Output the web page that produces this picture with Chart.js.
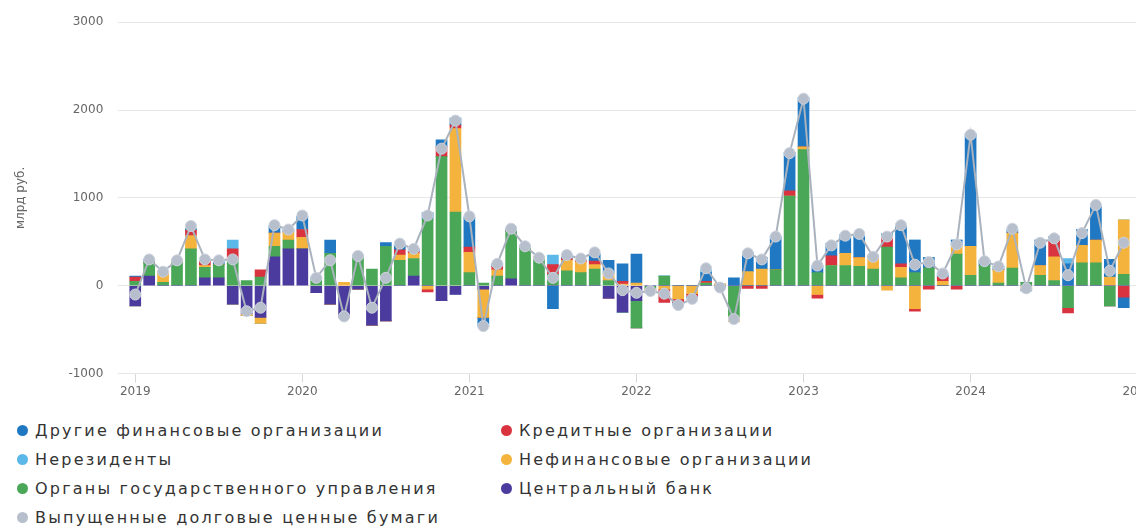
<!DOCTYPE html>
<html lang="ru">
<head>
<meta charset="utf-8">
<title>Выпущенные долговые ценные бумаги</title>
<script src="https://cdn.jsdelivr.net/npm/chart.js@4.4.1/dist/chart.umd.min.js"></script>
<style>
  html, body { margin: 0; padding: 0; background: #fff; overflow: hidden; }
  #wrap { position: absolute; left: 0; top: 0; width: 1172px; height: 401px; }
  #legend {
    position: absolute; left: 17px; top: 416px;
    display: grid; grid-template-columns: 484px auto; grid-auto-rows: 29px;
    font-family: 'DejaVu Sans', sans-serif; font-size: 16px; color: #333; letter-spacing: 2.2px;
  }
  .item { display: flex; align-items: center; white-space: nowrap; }
  .dot { width: 11px; height: 11px; border-radius: 50%; margin-right: 7px; flex: none; }
</style>
</head>
<body>
<div id="wrap"><canvas id="debtChart"></canvas></div>
<div id="legend"></div>

<script>
// месяцы с января 2019 по декабрь 2024, млрд руб.
const yearLabels = ['2019', '2020', '2021', '2022', '2023', '2024', '2025'];
const monthNames = ['янв', 'фев', 'мар', 'апр', 'май', 'июн', 'июл', 'авг', 'сен', 'окт', 'ноя', 'дек'];

const centralBank = [
  -230, 110, 0, 0, 0, 90, 90, -210, -320, -360, 330, 420,
  420, -80, -210, -360, -40, -450, -400, 0, 110, 0, -170, -100,
  0, -40, 0, 80, 0, 0, 0, 0, 0, 0, -140, -300,
  -170, 0, 0, 0, 0, 0, 0, 0, 0, 0, 0, 0,
  0, 0, 0, 0, 0, 0, 0, 0, 0, 0, 0, 0,
  0, 0, 0, 0, 0, 0, 0, 0, 0, 0, 0, 0
];
const government = [
  50, 150, 40, 270, 420, 120, 150, 300, 60, 100, 120, 100,
  0, 80, 370, 0, 320, 190, 450, 290, 200, 760, 1470, 840,
  150, 30, 110, 540, 430, 300, 130, 170, 150, 190, 60, 0,
  -310, -30, 110, 0, 0, 30, 0, -350, 0, 0, 180, 1020,
  1550, 150, 230, 230, 220, 190, 440, 90, 150, 200, 0, 360,
  120, 230, 30, 200, 40, 120, 60, -250, 260, 260, -230, 130
];
const nonFinancial = [
  0, 0, 120, 20, 150, 20, 0, 0, -20, -70, 150, 90,
  130, 0, 0, 40, 0, 0, 0, 60, 60, -40, 0, 950,
  230, -320, 70, 0, 0, 30, 0, 120, 120, 50, 80, 20,
  30, -20, -40, -150, -90, 0, 20, -60, 160, 190, 0, 0,
  30, -100, 0, 140, 100, 130, -50, 120, -260, 0, 50, 100,
  330, 0, 150, 400, -40, 110, 270, 0, 200, 260, 100, 620
];
const creditOrgs = [
  50, 0, 0, 0, 60, 60, 0, 120, 0, 80, 0, 0,
  90, 0, 0, 0, 0, 0, 0, 60, 20, -30, 110, 40,
  60, 0, 40, 0, 0, 0, 110, 20, 20, 40, 0, 30,
  0, 0, -150, -40, -30, 20, 0, 0, -30, -30, 0, 60,
  0, -40, 110, 0, 0, 0, 120, 40, -30, -40, 50, -40,
  0, 0, 0, 0, 0, 0, 200, -60, 0, 0, 0, -130
];
const otherFinancial = [
  10, 40, 0, 10, 20, 0, 50, 0, 0, 0, 80, 30,
  150, 20, 150, 0, 30, 0, 40, 60, 30, 70, 80, 80,
  340, -100, 30, 30, 30, 0, -260, 40, 0, 80, 150, 200,
  330, -30, 0, -30, -30, 100, -20, 90, 220, 130, 380, 440,
  560, 80, 140, 210, 260, 20, 30, 430, 370, 120, 20, 60,
  1280, 60, 40, 40, -20, 290, 30, 250, 180, 380, 200, -120
];
const nonResidents = [
  0, 0, 0, 0, 0, 0, 0, 100, 0, 0, 0, 0,
  0, 0, 0, 0, 0, 0, 0, 0, 0, 0, 0, 0,
  0, 0, 0, 0, 0, 0, 110, 0, 0, 0, 0, 0,
  0, 0, 0, 0, 0, 40, 0, 0, 0, 0, 0, 0,
  0, 0, 0, 0, 0, 0, 0, 0, 0, 0, 20, 0,
  0, 0, 0, 0, 0, 0, 0, 60, 0, 0, 0, 0
];
const issuedTotal = [
  -100, 300, 160, 290, 680, 300, 290, 300, -290, -250, 690, 640,
  800, 90, 290, -350, 340, -250, 90, 480, 420, 800, 1560, 1880,
  790, -460, 250, 650, 450, 320, 90, 350, 310, 380, 140, -50,
  -80, -60, -90, -220, -150, 200, -20, -380, 370, 300, 560, 1510,
  2130, 230, 460, 570, 590, 330, 560, 690, 240, 270, 140, 470,
  1720, 280, 220, 650, -30, 490, 540, 120, 600, 920, 170, 490
];

const yTicks = [-1000, 0, 1000, 2000, 3000];

const toPoints = arr => arr.map((v, i) => ({ x: i, y: v }));

const barSeries = [
  { label: 'Центральный банк', data: centralBank, color: '#4b3b9e' },
  { label: 'Органы государственного управления', data: government, color: '#4aa757' },
  { label: 'Нефинансовые организации', data: nonFinancial, color: '#f3b33d' },
  { label: 'Кредитные организации', data: creditOrgs, color: '#d8333f' },
  { label: 'Другие финансовые организации', data: otherFinancial, color: '#1f78c1' },
  { label: 'Нерезиденты', data: nonResidents, color: '#5bb8e8' }
];

const legendOrder = [
  'Другие финансовые организации', 'Кредитные организации',
  'Нерезиденты', 'Нефинансовые организации',
  'Органы государственного управления', 'Центральный банк',
  'Выпущенные долговые ценные бумаги'
];

const datasets = [
  {
    type: 'line',
    label: 'Выпущенные долговые ценные бумаги',
    data: toPoints(issuedTotal),
    stack: 'total',
    order: 0,
    borderColor: '#aab2be',
    backgroundColor: '#b7bfcd',
    borderWidth: 2,
    pointRadius: 5.5,
    pointBackgroundColor: '#b7bfcd',
    pointBorderColor: '#cdd3dd',
    pointBorderWidth: 1,
    tension: 0
  }
].concat(barSeries.map(s => ({
  type: 'bar',
  label: s.label,
  data: toPoints(s.data),
  stack: 'holders',
  order: 1,
  backgroundColor: s.color,
  borderWidth: 0,
  barThickness: 11
})));

const tickColor = '#666';
const gridColor = '#e6e6e6';

const chart = new Chart(document.getElementById('debtChart'), {
  data: { datasets },
  options: {
    responsive: true,
    maintainAspectRatio: false,
    animation: false,
    layout: { padding: { left: 10, top: 9, right: 0, bottom: 0 } },
    interaction: { mode: 'index', intersect: false },
    plugins: {
      legend: { display: false },
      tooltip: {
        callbacks: {
          title: items => {
            const i = items[0].parsed.x;
            return monthNames[i % 12] + ' ' + yearLabels[Math.floor(i / 12)];
          }
        }
      }
    },
    scales: {
      x: {
        type: 'linear',
        stacked: true,
        offset: false,
        min: -1.22,
        max: 74,
        afterBuildTicks: axis => {
          axis.ticks = yearLabels.map((y, k) => ({ value: k * 12 }));
        },
        grid: { offset: false, drawOnChartArea: false, drawTicks: true, tickLength: 9, color: '#d8d8d8' },
        border: { display: false },
        ticks: {
          padding: 2,
          maxRotation: 0,
          autoSkip: false,
          color: tickColor,
          font: { family: 'DejaVu Sans', size: 12 },
          callback: value => yearLabels[Math.round(value / 12)]
        }
      },
      y: {
        stacked: true,
        min: -1000,
        max: 3000,
        afterBuildTicks: axis => {
          axis.ticks = yTicks.map(v => ({ value: v }));
        },
        grid: { color: gridColor, drawTicks: false },
        border: { display: false },
        ticks: {
          padding: 15,
          color: tickColor,
          font: { family: 'DejaVu Sans', size: 12 },
          callback: value => String(value)
        },
        title: {
          display: true,
          text: 'млрд руб.',
          color: tickColor,
          font: { family: 'DejaVu Sans', size: 12 },
          padding: { top: 4, bottom: 25 }
        }
      }
    }
  }
});

// легенда в две колонки, как в оригинале
const legendEl = document.getElementById('legend');
legendOrder.forEach(name => {
  const ds = chart.data.datasets.find(d => d.label === name);
  const item = document.createElement('div');
  item.className = 'item';
  const dot = document.createElement('span');
  dot.className = 'dot';
  dot.style.background = ds.type === 'line' ? ds.pointBackgroundColor : ds.backgroundColor;
  const text = document.createElement('span');
  text.textContent = name;
  item.appendChild(dot);
  item.appendChild(text);
  legendEl.appendChild(item);
});
</script>
</body>
</html>
